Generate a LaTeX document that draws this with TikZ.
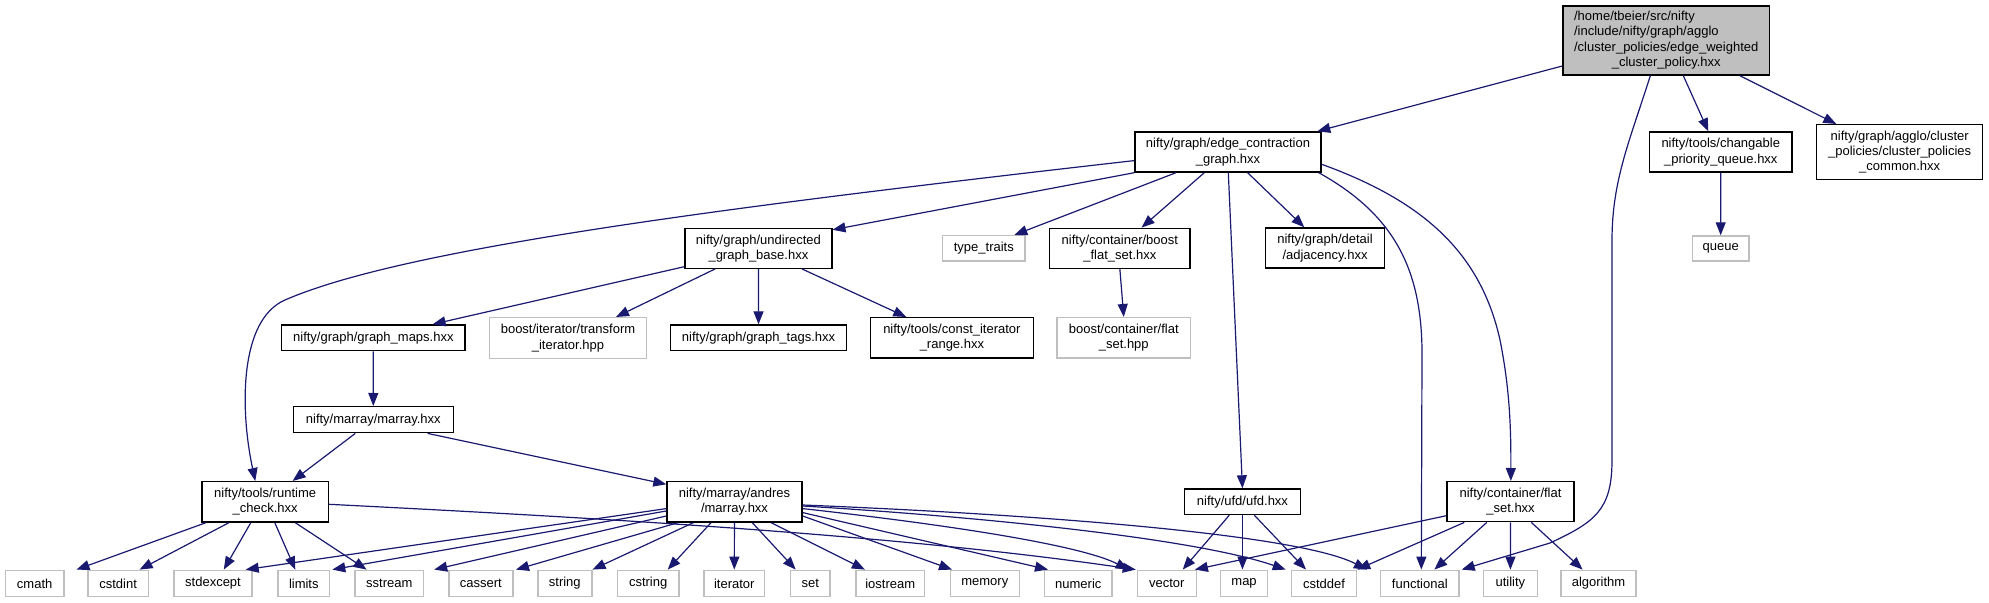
\documentclass[tikz,border=0pt]{standalone}
\usepackage{fontspec}
\setmainfont{Liberation Sans}
\usetikzlibrary{arrows.meta,calc}
\definecolor{edgeblue}{HTML}{191970}
\definecolor{greyline}{HTML}{BFBFBF}
\newcommand\bnode[7]{\node[#2,minimum width={(#4-#3)*0.5pt},minimum height={(#6-#5)*0.5pt}] (#1) at ({(#3+#4)/2},{(#5+#6)/2}) {#7};}
\begin{document}
\begin{tikzpicture}[x=0.5pt,y=-0.5pt,
  every node/.style={font=\fontsize{6.5pt}{7.7pt}\selectfont, inner sep=0pt, align=center},
  nbox/.style={draw=black, line width=0.7pt},
  ext/.style={draw=greyline, line width=0.7pt},
  rootbox/.style={draw=black, fill=greyline, line width=0.7pt},
  dep/.style={draw=edgeblue, line width=0.6pt, -{Triangle[length=6.5pt,width=5pt]}}]
\useasboundingbox (0,0) rectangle (1989,603);
% nodes
\bnode{root}{rootbox}{1563}{1769.5}{6}{75}{\begin{tabular}{@{}l@{}}/home/tbeier/src/nifty\\/include/nifty/graph/agglo\\/cluster\_policies/edge\_weighted\\\multicolumn{1}{@{}c@{}}{\_cluster\_policy.hxx}\end{tabular}}
\bnode{ec}{nbox}{1135}{1321}{132}{172}{nifty/graph/edge\_contraction\\\_graph.hxx}
\bnode{cpq}{nbox}{1649.5}{1792}{132}{172}{nifty/tools/changable\\\_priority\_queue.hxx}
\bnode{cpc}{nbox}{1816.6}{1982.7}{124.7}{179.3}{nifty/graph/agglo/cluster\\\_policies/cluster\_policies\\\_common.hxx}
\bnode{queue}{ext}{1692.3}{1749}{236}{261}{queue}
\bnode{ugb}{nbox}{685}{831.8}{228.5}{268.3}{nifty/graph/undirected\\\_graph\_base.hxx}
\bnode{tt}{ext}{942.7}{1025}{235.7}{261}{type\_traits}
\bnode{bfs}{nbox}{1049.7}{1190}{228.3}{268.3}{nifty/container/boost\\\_flat\_set.hxx}
\bnode{adj}{nbox}{1265.7}{1384.3}{228}{268}{nifty/graph/detail\\/adjacency.hxx}
\bnode{gm}{nbox}{281.7}{465}{325}{350.7}{nifty/graph/graph\_maps.hxx}
\bnode{ti}{ext}{489.3}{646.7}{317.7}{358.3}{boost/iterator/transform\\\_iterator.hpp}
\bnode{gt}{nbox}{670.6}{846.5}{325}{350.7}{nifty/graph/graph\_tags.hxx}
\bnode{cir}{nbox}{870.5}{1033.3}{317.7}{358}{nifty/tools/const\_iterator\\\_range.hxx}
\bnode{bfsh}{ext}{1057}{1190.5}{317.7}{358}{boost/container/flat\\\_set.hpp}
\bnode{ma}{nbox}{293.3}{453.3}{406.7}{432.7}{nifty/marray/marray.hxx}
\bnode{rc}{nbox}{202}{328.3}{481.7}{522}{nifty/tools/runtime\\\_check.hxx}
\bnode{am}{nbox}{667}{802}{481.7}{522}{nifty/marray/andres\\/marray.hxx}
\bnode{ufd}{nbox}{1184.4}{1300.5}{489}{514.5}{nifty/ufd/ufd.hxx}
\bnode{fs}{nbox}{1447}{1574}{481.7}{521.7}{nifty/container/flat\\\_set.hxx}
\bnode{cmath}{ext}{5.6}{63.8}{570.3}{596.7}{cmath}
\bnode{cstdint}{ext}{87.8}{148.5}{570.3}{596.7}{cstdint}
\bnode{stdexcept}{ext}{174}{252}{570.3}{596.7}{stdexcept}
\bnode{limits}{ext}{278}{329.6}{570.3}{596.7}{limits}
\bnode{sstream}{ext}{355}{423.5}{570.3}{596.7}{sstream}
\bnode{cassert}{ext}{449}{512.8}{570.3}{596.7}{cassert}
\bnode{string}{ext}{537.8}{591.8}{570.3}{596.7}{string}
\bnode{cstring}{ext}{617.3}{679}{570.3}{596.7}{cstring}
\bnode{iterator}{ext}{704}{764.5}{570.3}{596.7}{iterator}
\bnode{set}{ext}{790.6}{830}{570.3}{596.7}{set}
\bnode{iostream}{ext}{855.8}{924.6}{570.3}{596.7}{iostream}
\bnode{memory}{ext}{950.4}{1019.2}{570.3}{596.7}{memory}
\bnode{numeric}{ext}{1044.6}{1112}{570.3}{596.7}{numeric}
\bnode{vector}{ext}{1137.4}{1196.2}{570.3}{596.7}{vector}
\bnode{map}{ext}{1220.6}{1267.5}{570.3}{596.7}{map}
\bnode{cstddef}{ext}{1291.4}{1356.5}{570.3}{596.7}{cstddef}
\bnode{functional}{ext}{1380.6}{1459}{570.3}{596.7}{functional}
\bnode{utility}{ext}{1483.5}{1537.3}{570.3}{596.7}{utility}
\bnode{algorithm}{ext}{1561}{1636}{570.3}{596.7}{algorithm}
% root edges
\draw[dep] ($(root.north west)+(0,60.7)$) -- ($(ec.north west)+(183,0)$);
\draw[dep] ($(root.south west)+(88,0)$) .. controls (1630,140) and (1612,180) .. (1612,240) -- (1612,460) .. controls (1612,510) and (1595,522) .. (1550,543) -- ($(functional.north east)+(2,0)$);
\draw[dep] ($(root.south west)+(121,0)$) -- ($(cpq.north west)+(59.5,0)$);
\draw[dep] ($(root.south west)+(177.6,0)$) -- ($(cpc.north west)+(20.4,0)$);
\draw[dep] (cpq) -- (queue);
% edge_contraction edges
\draw[dep] ($(ec.north west)+(0,29.3)$) .. controls (700,210) and (400,250) .. (285,300) .. controls (239,320) and (240,410) .. ($(rc.north west)+(54,0)$);
\draw[dep] (ec.south west) -- ($(ugb.north east)+(0,2)$);
\draw[dep] ($(ec.south west)+(41.7,0)$) -- ($(tt.north west)+(72.3,0)$);
\draw[dep] ($(ec.south west)+(70,0)$) -- ($(bfs.north west)+(92.6,0)$);
\draw[dep] ($(ec.south west)+(94,0)$) -- (ufd.north);
\draw[dep] ($(ec.south west)+(113.3,0)$) -- ($(adj.north west)+(39.3,0)$);
\draw[dep] ($(ec.south east)+(-3,0)$) .. controls (1395,215) and (1421,270) .. (1422,350) -- ($(functional.north west)+(41.4,0)$);
\draw[dep] ($(ec.north east)+(0,33)$) .. controls (1420,200) and (1480,250) .. (1500,340) .. controls (1510,390) and (1511,430) .. ($(fs.north west)+(64.5,0)$);
% undirected graph base edges
\draw[dep] ($(ugb.south west)+(0,-2.3)$) -- ($(gm.north west)+(151.6,0)$);
\draw[dep] ($(ugb.south west)+(30.7,0)$) -- ($(ti.north west)+(127.4,0)$);
\draw[dep] (ugb) -- (gt);
\draw[dep] ($(ugb.south west)+(117.8,0)$) -- ($(cir.north west)+(36.5,0)$);
\draw[dep] (bfs.south) -- (bfsh.north);
\draw[dep] (gm) -- (ma);
\draw[dep] ($(ma.south west)+(62.7,0)$) -- ($(rc.north west)+(91.3,0)$);
\draw[dep] ($(ma.south west)+(135,0)$) -- ($(am.north west)+(0,3.3)$);
% runtime_check edges
\draw[dep] ($(rc.south west)+(4.6,0)$) -- ($(cmath.north east)+(12,0)$);
\draw[dep] ($(rc.south west)+(27.6,0)$) -- ($(cstdint.north west)+(52.5,0)$);
\draw[dep] ($(rc.south west)+(49.5,0)$) -- ($(stdexcept.north west)+(50.5,0)$);
\draw[dep] ($(rc.south west)+(73.5,0)$) -- ($(limits.north west)+(18,0)$);
\draw[dep] ($(rc.south west)+(94,0)$) -- ($(sstream.north west)+(12.3,0)$);
\draw[dep] ($(rc.north east)+(0,23.3)$) .. controls (600,518) and (900,535) .. ($(vector.north west)+(-1,0)$);
% andres marray edges
\draw[dep] ($(am.north west)+(0,27.6)$) -- ($(stdexcept.north east)+(-7,0)$);
\draw[dep] ($(am.north west)+(0,30)$) -- ($(limits.north east)+(2,0)$);
\draw[dep] ($(am.north west)+(0,35)$) -- ($(sstream.north east)+(10,0)$);
\draw[dep] ($(am.south west)+(11.6,0)$) -- ($(cassert.north east)+(2.5,0)$);
\draw[dep] ($(am.south west)+(27,0)$) -- (string.north east);
\draw[dep] ($(am.south west)+(44.7,0)$) -- ($(cstring.north west)+(51.1,0)$);
\draw[dep] (am) -- (iterator);
\draw[dep] ($(am.south west)+(86,0)$) -- ($(set.north west)+(5.8,0)$);
\draw[dep] ($(am.south west)+(104.9,0)$) -- ($(iostream.north west)+(9.8,0)$);
\draw[dep] ($(am.north east)+(0,35)$) -- ($(memory.north west)+(2.3,0)$);
\draw[dep] ($(am.north east)+(0,31.6)$) -- ($(numeric.north west)+(4.1,0)$);
\draw[dep] ($(am.north east)+(0,27.6)$) .. controls (950,525) and (1080,545) .. ($(vector.north west)+(-8,0)$);
\draw[dep] ($(am.north east)+(0,25)$) .. controls (1000,518) and (1200,540) .. ($(cstddef.north west)+(-5,0)$);
\draw[dep] ($(am.north east)+(0,24)$) .. controls (1050,515) and (1300,535) .. ($(functional.north west)+(-13,0)$);
% ufd edges
\draw[dep] ($(ufd.south west)+(45.6,0)$) -- ($(vector.north west)+(46,0)$);
\draw[dep] (ufd.south) -- (ufd.south |- map.north);
\draw[dep] ($(ufd.south west)+(70.6,0)$) -- ($(cstddef.north west)+(15.3,0)$);
% flat_set edges
\draw[dep] ($(fs.south west)+(0,-6.7)$) -- ($(vector.north east)+(-2,0)$);
\draw[dep] ($(fs.south west)+(18,0)$) -- (cstddef.north east);
\draw[dep] ($(fs.south west)+(40.5,0)$) -- ($(functional.north west)+(54.4,0)$);
\draw[dep] (fs) -- (utility);
\draw[dep] ($(fs.south west)+(85,0)$) -- ($(algorithm.north west)+(22.3,0)$);
\end{tikzpicture}
\end{document}
